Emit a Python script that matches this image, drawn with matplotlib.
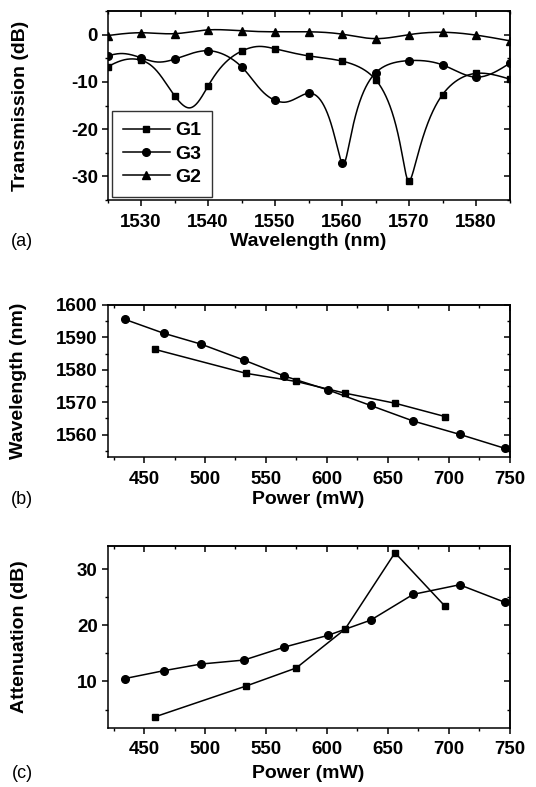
import numpy as np
import matplotlib
matplotlib.use("Agg")
import matplotlib.pyplot as plt
from matplotlib.ticker import MultipleLocator, NullFormatter
from matplotlib.font_manager import FontProperties

plt.rcParams['font.family'] = ['Liberation Sans', 'DejaVu Sans']
plt.rcParams['axes.unicode_minus'] = False

# ---------------- data ----------------
# marker (sampled) points of the transmission spectra
wl = [1525, 1530, 1535, 1540, 1545, 1550, 1555, 1560, 1565, 1570, 1575, 1580, 1585]
g1_trans = [-6.8, -5.4, -12.9, -10.9, -3.5, -3.0, -4.5, -5.6, -9.5, -31.0, -12.7, -8.2, -9.4]
g3_trans = [-4.5, -4.9, -5.2, -3.4, -6.8, -13.9, -12.4, -27.2, -8.1, -5.5, -6.4, -9.0, -6.1]
g2_trans = [-0.2, 0.4, 0.2, 1.0, 0.8, 0.6, 0.6, 0.1, -0.85, 0.0, 0.5, -0.1, -1.3]

g1_extra_wl = [1528.0, 1537.1, 1547.5]
g1_extra_val = [-5.2, -15.5, -2.5]
g3_extra_wl = [1527.0, 1532.5, 1551.5]
g3_extra_val = [-4.0, -5.8, -14.3]
g2_extra_wl = []
g2_extra_val = []

power_g3 = [434, 466, 497, 532, 565, 601, 636, 671, 709, 746]
wave_g3 = [1595.6, 1591.3, 1587.9, 1583.0, 1578.1, 1573.8, 1569.0, 1564.2, 1560.1, 1555.8]
atten_g3 = [10.5, 11.9, 13.1, 13.8, 16.1, 18.2, 20.9, 25.5, 27.2, 24.1]

power_g1 = [459, 534, 575, 615, 656, 697]
wave_g1 = [1586.3, 1578.9, 1576.4, 1572.8, 1569.7, 1565.6]
atten_g1 = [3.7, 9.2, 12.4, 19.3, 32.9, 23.4]

# ---------------- helpers ----------------
def _nat_coeffs(t, y):
    m = len(t)
    h = np.diff(t)
    A = np.zeros((m, m)); b = np.zeros(m)
    A[0, 0] = 1; A[-1, -1] = 1
    for i in range(1, m - 1):
        A[i, i - 1] = h[i - 1]
        A[i, i] = 2 * (h[i - 1] + h[i])
        A[i, i + 1] = h[i]
        b[i] = 3 * ((y[i + 1] - y[i]) / h[i] - (y[i] - y[i - 1]) / h[i - 1])
    return np.linalg.solve(A, b)

def _nat_eval(t, y, c, ts):
    h = np.diff(t)
    idx = np.clip(np.searchsorted(t, ts) - 1, 0, len(t) - 2)
    dx = ts - t[idx]
    bi = (y[idx + 1] - y[idx]) / h[idx] - h[idx] * (2 * c[idx] + c[idx + 1]) / 3
    di = (c[idx + 1] - c[idx]) / (3 * h[idx])
    return y[idx] + bi * dx + c[idx] * dx ** 2 + di * dx ** 3

def parametric_spline(ax, x, y, n=1500):
    """Smooth line through the data points, built in display space."""
    pts = ax.transData.transform(np.column_stack([x, y]))
    t = np.concatenate([[0], np.cumsum(np.hypot(*np.diff(pts, axis=0).T))])
    ts = np.linspace(0, t[-1], n)
    px = _nat_eval(t, pts[:, 0], _nat_coeffs(t, pts[:, 0]), ts)
    py = _nat_eval(t, pts[:, 1], _nat_coeffs(t, pts[:, 1]), ts)
    out = ax.transData.inverted().transform(np.column_stack([px, py]))
    return out[:, 0], out[:, 1]

def merged(xm, ym, xe, ye):
    x = np.array(list(xm) + list(xe), float)
    y = np.array(list(ym) + list(ye), float)
    o = np.argsort(x)
    return x[o], y[o]

tfp = FontProperties(family=['Liberation Sans', 'DejaVu Sans'], weight='bold', size=13.5)
lfont = dict(family=['Liberation Sans', 'DejaVu Sans'], weight='bold', size=14)

def style_axes(ax, xmaj, xmin, ymaj, ymin):
    ax.xaxis.set_major_locator(MultipleLocator(xmaj))
    ax.xaxis.set_minor_locator(MultipleLocator(xmin))
    ax.yaxis.set_major_locator(MultipleLocator(ymaj))
    ax.yaxis.set_minor_locator(MultipleLocator(ymin))
    ax.tick_params(which='major', direction='out', length=4, width=1.1, pad=6)
    ax.tick_params(axis='y', which='major', pad=3)
    ax.tick_params(which='minor', direction='out', length=2.5, width=1.0)
    for lab in ax.get_xticklabels() + ax.get_yticklabels():
        lab.set_fontproperties(tfp)
    for s in ax.spines.values():
        s.set_linewidth(1.1)
    top = ax.secondary_xaxis('top')
    top.xaxis.set_major_locator(MultipleLocator(xmaj))
    top.xaxis.set_minor_locator(MultipleLocator(xmin))
    top.tick_params(which='major', direction='in', length=4, width=1.1)
    top.tick_params(which='minor', direction='in', length=2.5, width=1.0)
    top.xaxis.set_major_formatter(NullFormatter())
    top.spines['top'].set_linewidth(1.1)
    right = ax.secondary_yaxis('right')
    right.yaxis.set_major_locator(MultipleLocator(ymaj))
    right.yaxis.set_minor_locator(MultipleLocator(ymin))
    right.tick_params(which='major', direction='in', length=4, width=1.1)
    right.tick_params(which='minor', direction='in', length=2.5, width=1.0)
    right.yaxis.set_major_formatter(NullFormatter())
    right.spines['right'].set_linewidth(1.1)

W, H = 536, 787
fig = plt.figure(figsize=(W / 100, H / 100), dpi=100)

def add_axes(left, right, top, bottom):
    return fig.add_axes([left / W, 1 - bottom / H, (right - left) / W, (bottom - top) / H])

lw = 1.1
ms_sq, ms_ci, ms_tr = 5, 5.5, 5.5

# ---------------- panel (a) ----------------
axa = add_axes(107.5, 509.5, 11, 200)
axa.set_xlim(1525, 1585)
axa.set_ylim(-35, 5)
series = [(g1_trans, g1_extra_wl, g1_extra_val, 's', ms_sq, 'G1'),
          (g3_trans, g3_extra_wl, g3_extra_val, 'o', ms_ci, 'G3'),
          (g2_trans, g2_extra_wl, g2_extra_val, '^', ms_tr, 'G2')]
for y, xe, ye, mk, ms, lab in series:
    lx, ly = merged(wl, y, xe, ye)
    xs, ys = parametric_spline(axa, lx, ly)
    axa.plot(xs, ys, color='black', lw=lw)
    axa.plot(wl, y, linestyle='none', marker=mk, ms=ms, color='black')
    axa.plot([], [], color='black', lw=lw, marker=mk, ms=ms, label=lab)
axa.set_xlim(1525, 1585)
axa.set_ylim(-35, 5)
style_axes(axa, 10, 5, 10, 5)
axa.set_ylabel('Transmission (dB)', **lfont)
axa.yaxis.set_label_coords(-0.195, 0.5)
axa.set_xlabel('Wavelength (nm)', **lfont)
axa.xaxis.label.set_va('center')
axa.xaxis.set_label_coords(0.5, (200 - 241) / 189)
leg = axa.legend(loc='lower left', bbox_to_anchor=(0.012, 0.016), frameon=True, fancybox=False,
                 edgecolor='black', prop=dict(family=['Liberation Sans', 'DejaVu Sans'], weight='bold', size=14),
                 handlelength=2.4, handletextpad=0.3, labelspacing=0.3, borderpad=0.55, borderaxespad=0)
leg.get_frame().set_linewidth(1.0)
fig.text(22 / W, 1 - 241 / H, '(a)', ha='center', va='center', fontsize=13)

# ---------------- panel (b) ----------------
axb = add_axes(107.5, 509.5, 305, 456.7)
axb.plot(power_g1, wave_g1, color='black', lw=lw, marker='s', ms=ms_sq)
axb.plot(power_g3, wave_g3, color='black', lw=lw, marker='o', ms=ms_ci)
axb.set_xlim(420, 750)
axb.set_ylim(1553.2, 1600)
style_axes(axb, 50, 25, 10, 5)
axb.set_ylabel('Wavelength (nm)', **lfont)
axb.yaxis.set_label_coords(-0.2, 0.5)
axb.set_xlabel('Power (mW)', **lfont)
axb.xaxis.label.set_va('center')
axb.xaxis.set_label_coords(0.5, (456.7 - 500) / 151.7)
fig.text(22 / W, 1 - 499 / H, '(b)', ha='center', va='center', fontsize=13)

# ---------------- panel (c) ----------------
axc = add_axes(107.5, 509.5, 546, 727.5)
axc.plot(power_g1, atten_g1, color='black', lw=lw, marker='s', ms=ms_sq)
axc.plot(power_g3, atten_g3, color='black', lw=lw, marker='o', ms=ms_ci)
axc.set_xlim(420, 750)
axc.set_ylim(1.8, 34.1)
style_axes(axc, 50, 25, 10, 5)
axc.set_ylabel('Attenuation (dB)', **lfont)
axc.yaxis.set_label_coords(-0.198, 0.5)
axc.set_xlabel('Power (mW)', **lfont)
axc.xaxis.label.set_va('center')
axc.xaxis.set_label_coords(0.5, (727.5 - 774) / 181.5)
fig.text(22 / W, 1 - 774 / H, '(c)', ha='center', va='center', fontsize=13)

fig.savefig('out.png', dpi=100)
